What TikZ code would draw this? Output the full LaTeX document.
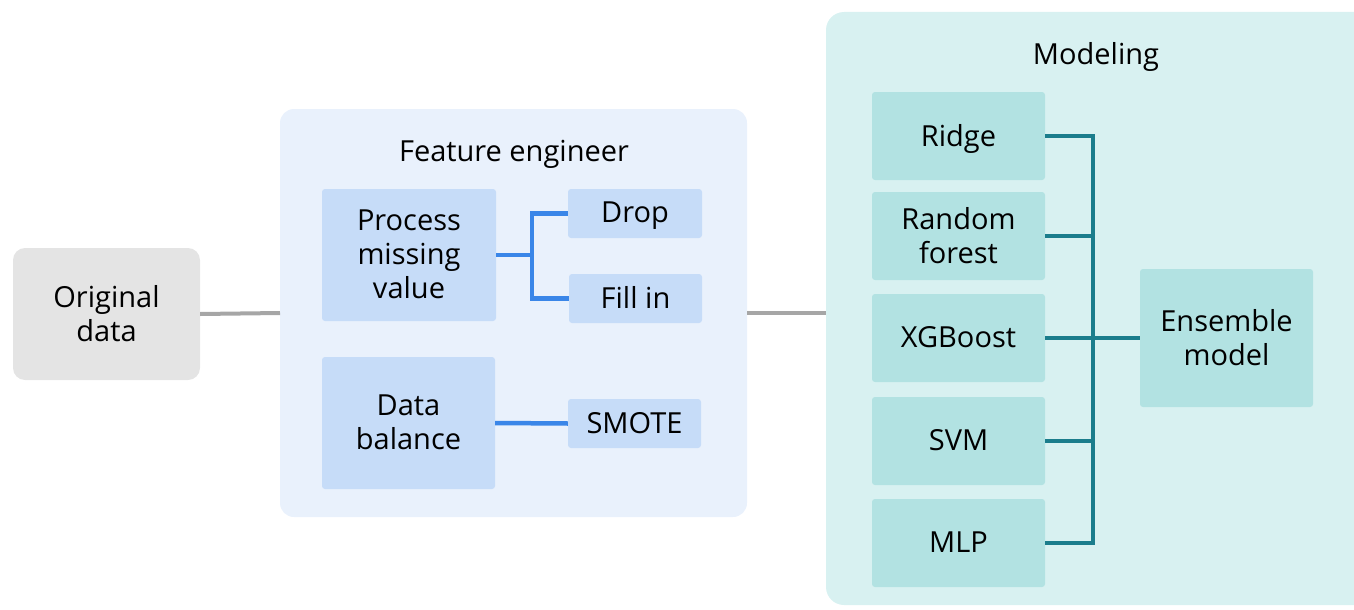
\documentclass[tikz,border=0pt]{standalone}
\usepackage{fontspec}
\setmainfont{Open Sans}
\definecolor{rawfill}{HTML}{E4E4E4}
\definecolor{linkgray}{HTML}{A6A6A6}
\definecolor{fepanel}{HTML}{E9F1FC}
\definecolor{febox}{HTML}{C6DCF8}
\definecolor{feline}{HTML}{3A86E8}
\definecolor{mdpanel}{HTML}{D8F1F1}
\definecolor{mdbox}{HTML}{B2E2E2}
\definecolor{mdline}{HTML}{1B7D8C}
\tikzset{
  txt/.style={font=\fontsize{29}{34}\selectfont, align=center, inner sep=0pt},
  box/.style={txt, rounded corners=3pt, text depth=2pt},
  febx/.style={box, fill=febox},
  mdbx/.style={box, fill=mdbox, minimum width=173pt, minimum height=88pt},
  grayline/.style={draw=linkgray, line width=4pt},
  blueline/.style={draw=feline, line width=4.5pt},
  tealline/.style={draw=mdline, line width=4pt}
}
\begin{document}
\begin{tikzpicture}[x=1pt,y=-1pt]
  \clip (0,0) rectangle (1354,610);
  % panels
  \fill[fepanel, rounded corners=14pt] (280,109) rectangle (747,517);
  \fill[mdpanel, rounded corners=18pt] (826,12) rectangle (1400,605);
  \draw
    (106.5,314) node[box, fill=rawfill, rounded corners=12pt,
      minimum width=187pt, minimum height=132pt] (orig){Original\\data}
    (514,154) node[txt] (fetitle){Feature engineer}
    (409,255) node[febx, minimum width=174pt, minimum height=132pt] (pmv){Process\\missing\\value}
    (635,213.5) node[febx, minimum width=134pt, minimum height=49pt] (drop){Drop}
    (635.5,298.5) node[febx, minimum width=133pt, minimum height=49pt] (fillin){Fill in}
    (408.5,423) node[febx, minimum width=173pt, minimum height=132pt] (bal){Data\\balance}
    (634.5,423.5) node[febx, minimum width=133pt, minimum height=49pt] (smote){SMOTE}
    (1096,57) node[txt] (mdtitle){Modeling}
    (958.5,136) node[mdbx] (ridge){Ridge}
    (958.5,236) node[mdbx] (forest){Random\\forest}
    (958.5,338) node[mdbx] (xgb){XGBoost}
    (958.5,441) node[mdbx] (svm){SVM}
    (958.5,543) node[mdbx] (mlp){MLP}
    (1226.5,338) node[mdbx, minimum height=138pt] (ens){Ensemble\\model};
  \coordinate (fork) at (532,255);
  \coordinate (bus) at (1093,338);
  \coordinate (feR) at (747,313);
  \coordinate (feL) at (280,313);
  \coordinate (mdL) at (826,313);
  \begin{scope}[-]
    \draw[grayline] (orig.east) -- (feL);
    \draw[grayline] (feR) -- (mdL);
    \draw[blueline] (pmv.east) -- (fork) |- (drop.west);
    \draw[blueline] (fork) |- (fillin.west);
    \draw[blueline] (bal.east) -- (smote.west);
    \foreach \m in {ridge,forest,xgb,svm,mlp}
      \draw[tealline] (\m.east) -| (bus);
    \draw[tealline] (bus) -- (ens.west);
  \end{scope}
\end{tikzpicture}
\end{document}
